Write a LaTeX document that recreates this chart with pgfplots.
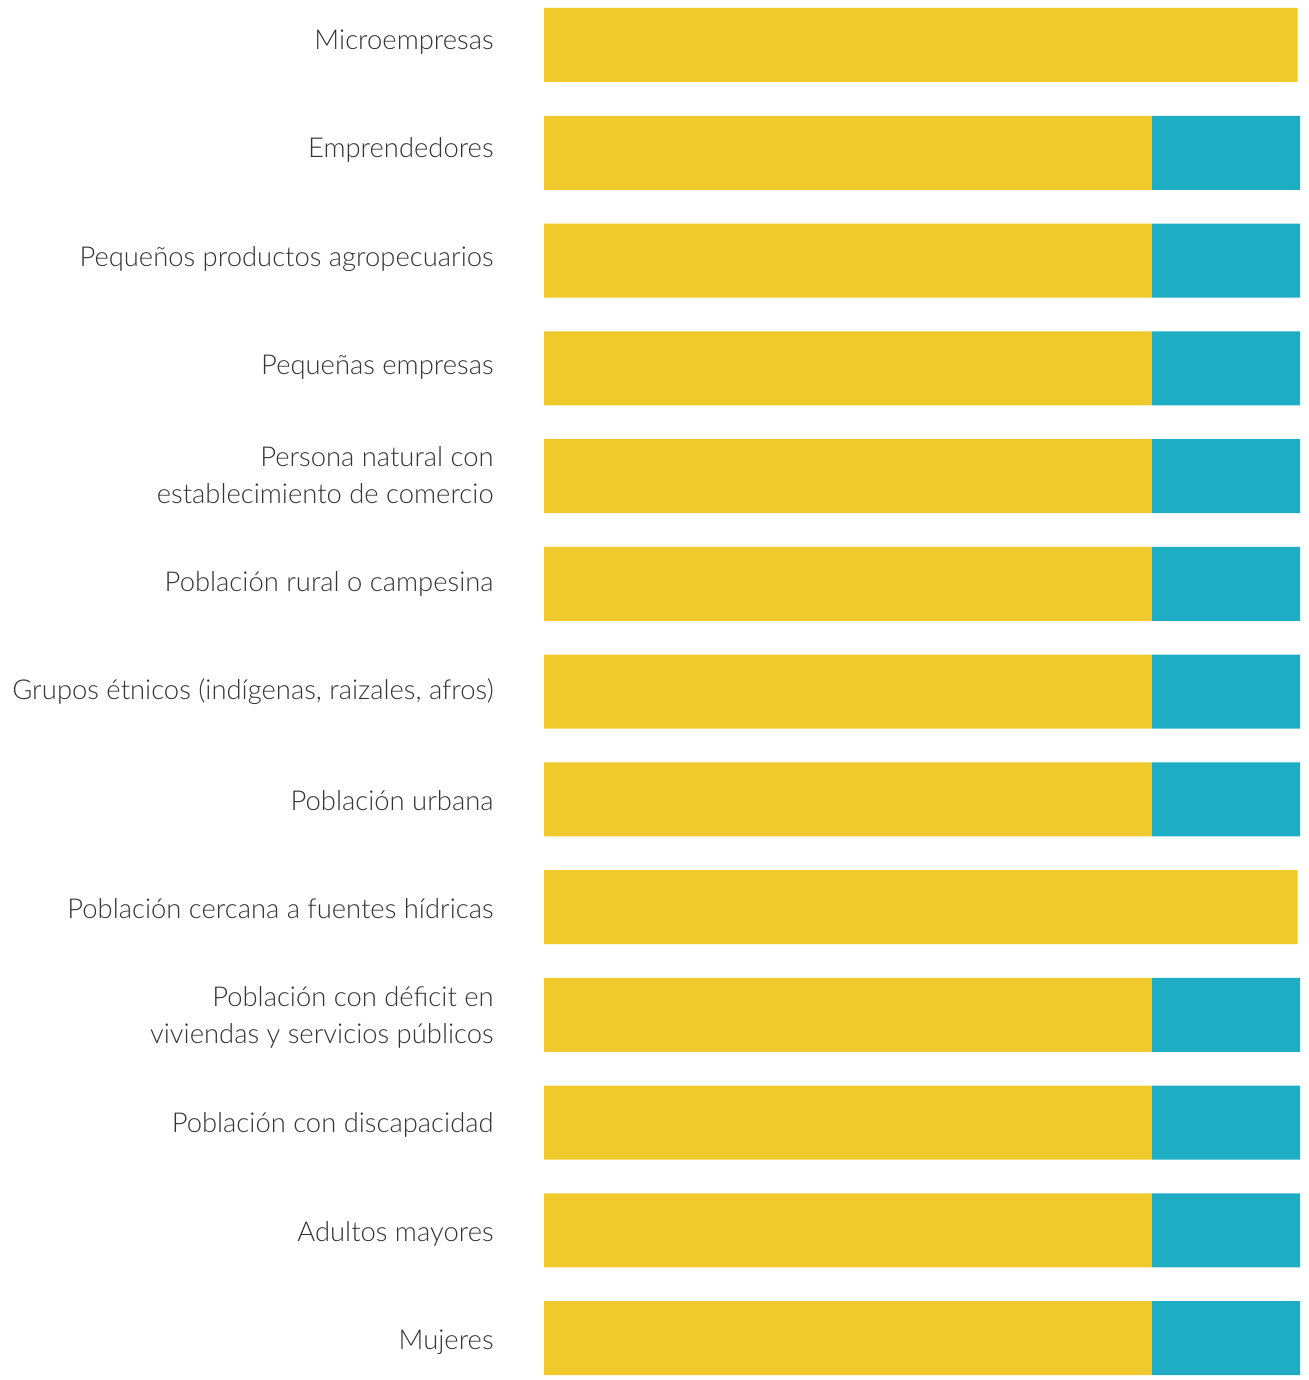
\documentclass[border=0pt]{standalone}
\usepackage{pgfplots}
\pgfplotsset{compat=1.18}
\usepackage{fontspec}
\setmainfont{Lato}[UprightFont=* Light]
\definecolor{ylw}{HTML}{F0C92C}
\definecolor{blu}{HTML}{1EADC3}
\definecolor{txt}{HTML}{333333}
\begin{document}
\begin{tikzpicture}
\begin{axis}[
  at={(272pt,0pt)}, anchor=south west,
  width=378pt, height=690pt, scale only axis,
  xbar stacked, bar width=37pt,
  xmin=0, xmax=100,
  ymin=-0.4176, ymax=12.389, y dir=reverse,
  axis line style={draw=none}, hide x axis,
  major tick length=0pt,
  ytick={-0.028,0.977,1.983,2.988,3.994,4.999,6.004,7.010,8.015,9.020,10.026,11.031,12.037},
  yticklabels={Microempresas,Emprendedores,Pequeños productos agropecuarios,Pequeñas empresas,{Persona natural con\\establecimiento de comercio},Población rural o campesina,{Grupos étnicos (indígenas, raizales, afros)},Población urbana,Población cercana a fuentes hídricas,{Población con déficit en\\viviendas y servicios públicos},Población con discapacidad,Adultos mayores,Mujeres},
  yticklabel style={font=\fontsize{13.7pt}{18.5pt}\selectfont, text=txt, align=right, anchor=east, inner xsep=0pt, xshift=-25pt},
  y tick label style={/pgf/number format/assume math mode=true},
  clip=false,
]
\addplot[fill=ylw, draw=none] coordinates {(99.7,0) (80.4,1) (80.4,2) (80.4,3) (80.4,4) (80.4,5) (80.4,6) (80.4,7) (99.7,8) (80.4,9) (80.4,10) (80.4,11) (80.4,12)};
\addplot[fill=blu, draw=none] coordinates {(0,0) (19.6,1) (19.6,2) (19.6,3) (19.6,4) (19.6,5) (19.6,6) (19.6,7) (0,8) (19.6,9) (19.6,10) (19.6,11) (19.6,12)};
\end{axis}
\pgfresetboundingbox
\path[use as bounding box] (0,0) rectangle (654pt,690pt);
\end{tikzpicture}
\end{document}
